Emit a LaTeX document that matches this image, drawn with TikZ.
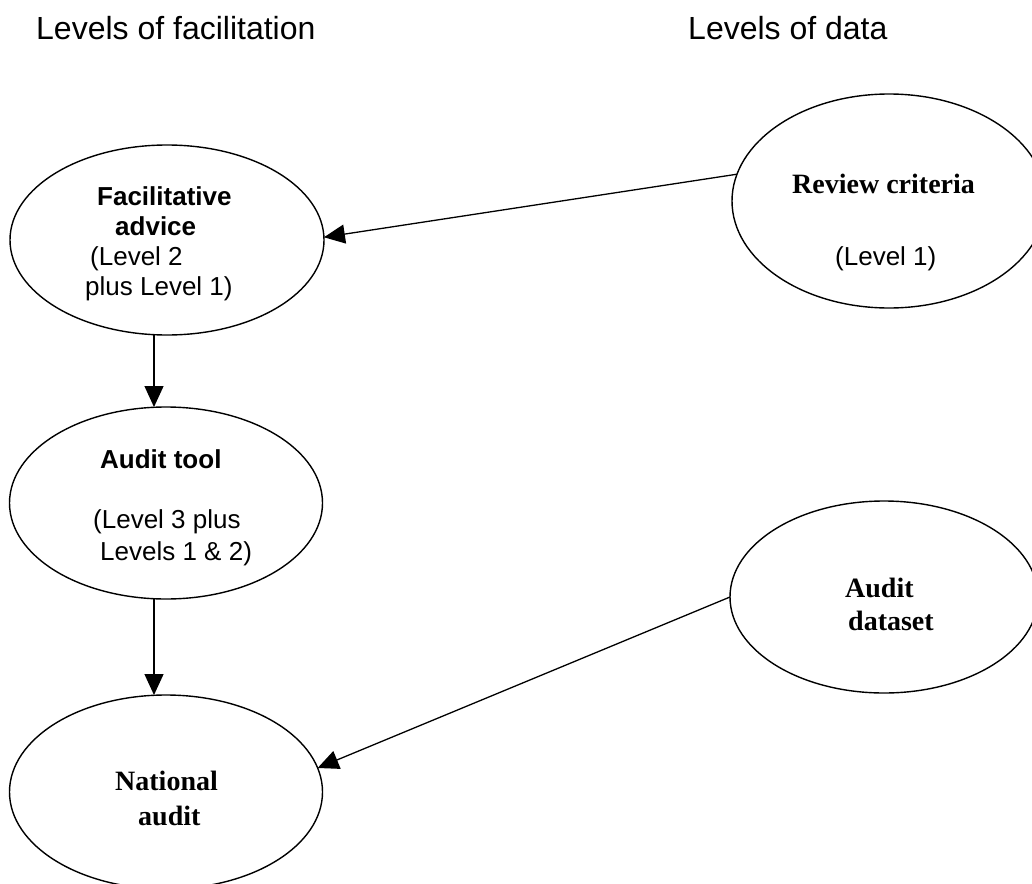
\documentclass[tikz,border=0pt]{standalone}
\usepackage{fontspec}
\setmainfont{Liberation Sans}
\newfontfamily\timesf{Liberation Serif}
\usetikzlibrary{shapes.geometric,arrows.meta}
\tikzset{
  bubble/.style={draw=black, line width=1.4pt, ellipse, inner sep=0pt, outer sep=0pt},
  arr/.style={draw=black, line width=1.3pt, -{Triangle[length=21pt,width=19pt]}},
  title/.style={anchor=base west, inner sep=0pt, font=\fontsize{32}{36}\selectfont},
  sanslbl/.style={anchor=base west, inner sep=0pt, font=\fontsize{26}{30}\selectfont},
  sansbold/.style={anchor=base west, inner sep=0pt, font=\fontsize{26}{30}\selectfont\bfseries},
  serifbold/.style={anchor=base west, inner sep=0pt, font=\timesf\fontsize{28}{32}\selectfont\bfseries}
}
\begin{document}
\begin{tikzpicture}[x=1pt,y=-1pt]
\useasboundingbox[fill=white] (0,0) rectangle (1032,883);
% titles
\node[title] (t1) at (36,40) {Levels of facilitation};
\node[title] (t2) at (688,40) {Levels of data};
% ellipses
\node[bubble, minimum width=314pt, minimum height=190pt] (fa) at (167,240) {};
\node[bubble, minimum width=313pt, minimum height=192pt] (at) at (166,503) {};
\node[bubble, minimum width=313pt, minimum height=194pt] (na) at (166,792) {};
\node[bubble, minimum width=314pt, minimum height=214pt] (rc) at (889,201) {};
\node[bubble, minimum width=308pt, minimum height=192pt] (ad) at (884,597) {};
% texts
\node[sansbold] (fa1) at (97,205) {Facilitative};
\node[sansbold] (fa2) at (115,235) {advice};
\node[sanslbl] (fa3) at (90,265) {(Level 2};
\node[sanslbl] (fa4) at (85,295) {plus Level 1)};
\node[sansbold] (at1) at (100,468) {Audit tool};
\node[sanslbl] (at2) at (93,528) {(Level 3 plus};
\node[sanslbl] (at3) at (100,560) {Levels 1 \& 2)};
\node[serifbold] (rc1) at (792,193) {Review criteria};
\node[sanslbl] (rc2) at (835,265) {(Level 1)};
\node[serifbold] (ad1) at (845,597) {Audit};
\node[serifbold] (ad2) at (848,630) {dataset};
\node[serifbold] (na1) at (115,790) {National};
\node[serifbold] (na2) at (138,825) {audit};
% connectors
\coordinate (vx) at (154,0);
\draw[arr] (fa.south -| vx) -- (at.north -| vx);
\draw[arr] (at.south -| vx) -- (na.north -| vx);
\draw[arr] (rc.170) -- (fa.1);
\draw[arr] (ad.180) -- (na.9);
\end{tikzpicture}
\end{document}
